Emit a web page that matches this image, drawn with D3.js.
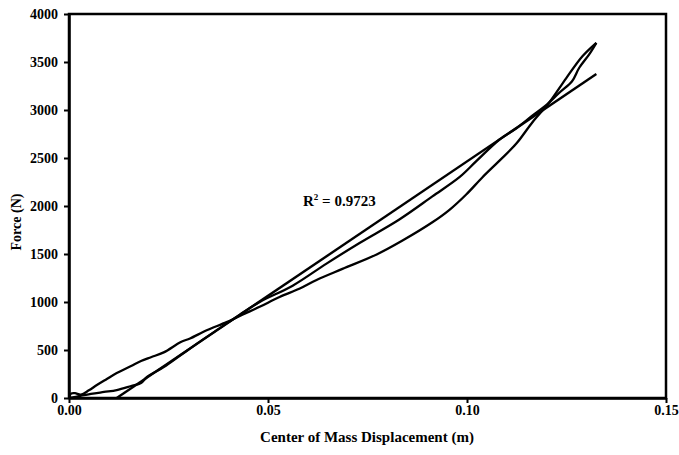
<!DOCTYPE html>
<html><head><meta charset="utf-8">
<script src="https://cdn.jsdelivr.net/npm/d3@7"></script>
<style>body{margin:0;background:#fff}svg{display:block}text{font-family:"Liberation Serif","Times New Roman",serif;font-weight:bold;fill:#000}</style>
</head><body><svg id="c" width="679" height="455"></svg>
<script>
const loadX = [0, 0.0005, 0.0015, 0.003, 0.005, 0.007, 0.0095, 0.012, 0.0156, 0.0181, 0.0206, 0.0238, 0.0281, 0.0304, 0.0346, 0.0396, 0.0437, 0.0479, 0.0529, 0.058, 0.0622, 0.0687, 0.0773, 0.0838, 0.0913, 0.0956, 0.0998, 0.1039, 0.1081, 0.1124, 0.1164, 0.1207, 0.1249, 0.129, 0.1325];
const loadF = [0, 45, 50, 35, 80, 135, 198, 260, 333, 385, 425, 475, 583, 620, 705, 790, 870, 950, 1052, 1140, 1230, 1345, 1495, 1640, 1830, 1960, 2120, 2300, 2470, 2650, 2870, 3080, 3330, 3560, 3700];
const unloadX = [0.1325, 0.1307, 0.1282, 0.1264, 0.1232, 0.1199, 0.1164, 0.1124, 0.1081, 0.1024, 0.0981, 0.0913, 0.083, 0.073, 0.0647, 0.0562, 0.0479, 0.043, 0.038, 0.033, 0.0281, 0.0238, 0.0196, 0.0181, 0.0156, 0.012, 0.0088, 0.0055, 0.0013, 0];
const unloadF = [3700, 3580, 3440, 3300, 3180, 3050, 2940, 2810, 2690, 2470, 2300, 2100, 1860, 1615, 1400, 1170, 1000, 870, 730, 590, 448, 323, 219, 156, 125, 83, 63, 42, 10, 0];
const trendSlope = 28008, trendIntercept = -336;
const xTicks = [0, 0.05, 0.10, 0.15];
const yTicks = [0, 500, 1000, 1500, 2000, 2500, 3000, 3500, 4000];
const r2Label = "0.9723";

const svg = d3.select("#c");
const L = 69, R = 666, T = 14, B = 398;
const x = d3.scaleLinear().domain([0, 0.15]).range([L, R]);
const y = d3.scaleLinear().domain([0, 4000]).range([B, T]);

const line = d3.line().x(d => x(d[0])).y(d => y(d[1])).curve(d3.curveCatmullRom.alpha(0.5));
const loadPts = loadX.map((v, i) => [v, loadF[i]]);
const unloadPts = unloadX.map((v, i) => [v, unloadF[i]]);
svg.append("path").attr("d", line(loadPts)).attr("fill", "none").attr("stroke", "#000").attr("stroke-width", 2.3).attr("stroke-linejoin", "round");
svg.append("path").attr("d", line(unloadPts)).attr("fill", "none").attr("stroke", "#000").attr("stroke-width", 2.3).attr("stroke-linejoin", "round");
const tx0 = -trendIntercept / trendSlope, tx1 = d3.max(loadX);
svg.append("path").attr("d", d3.line().x(d => x(d[0])).y(d => y(d[1]))([[tx0, 0], [tx1, trendSlope * tx1 + trendIntercept]])).attr("fill", "none").attr("stroke", "#000").attr("stroke-width", 2.4);

// frame
svg.append("rect").attr("x", L).attr("y", T).attr("width", R - L).attr("height", B - T).attr("fill", "none").attr("stroke", "#000").attr("stroke-width", 2.5);

const xa = svg.append("g").attr("transform", `translate(0,${B})`)
  .call(d3.axisBottom(x).tickValues(xTicks).tickFormat(d3.format(".2f")).tickSize(5).tickSizeOuter(0).tickPadding(2));
const ya = svg.append("g").attr("transform", `translate(${L},0)`)
  .call(d3.axisLeft(y).tickValues(yTicks).tickFormat(d3.format("d")).tickSize(5).tickSizeOuter(0).tickPadding(6));
[xa, ya].forEach(a => {
  a.select(".domain").attr("stroke", "#000").attr("stroke-width", 2.5);
  a.selectAll(".tick line").attr("stroke", "#000").attr("stroke-width", 2);
  a.selectAll("text").style("font-family", '"Liberation Serif",serif').style("font-weight", "bold").style("font-size", "14px").attr("fill", "#000");
});

svg.append("text").attr("x", 367).attr("y", 442).attr("text-anchor", "middle").style("font-size", "15px").text("Center of Mass Displacement (m)");
svg.append("text").attr("transform", "translate(21,222) rotate(-90)").attr("text-anchor", "middle").style("font-size", "14px").text("Force (N)");
const r2 = svg.append("text").attr("x", 303).attr("y", 206).style("font-size", "15px");
r2.append("tspan").text("R");
r2.append("tspan").attr("dy", -6).style("font-size", "9px").text("2");
r2.append("tspan").attr("dy", 6).text(" = " + r2Label);
</script></body></html>
